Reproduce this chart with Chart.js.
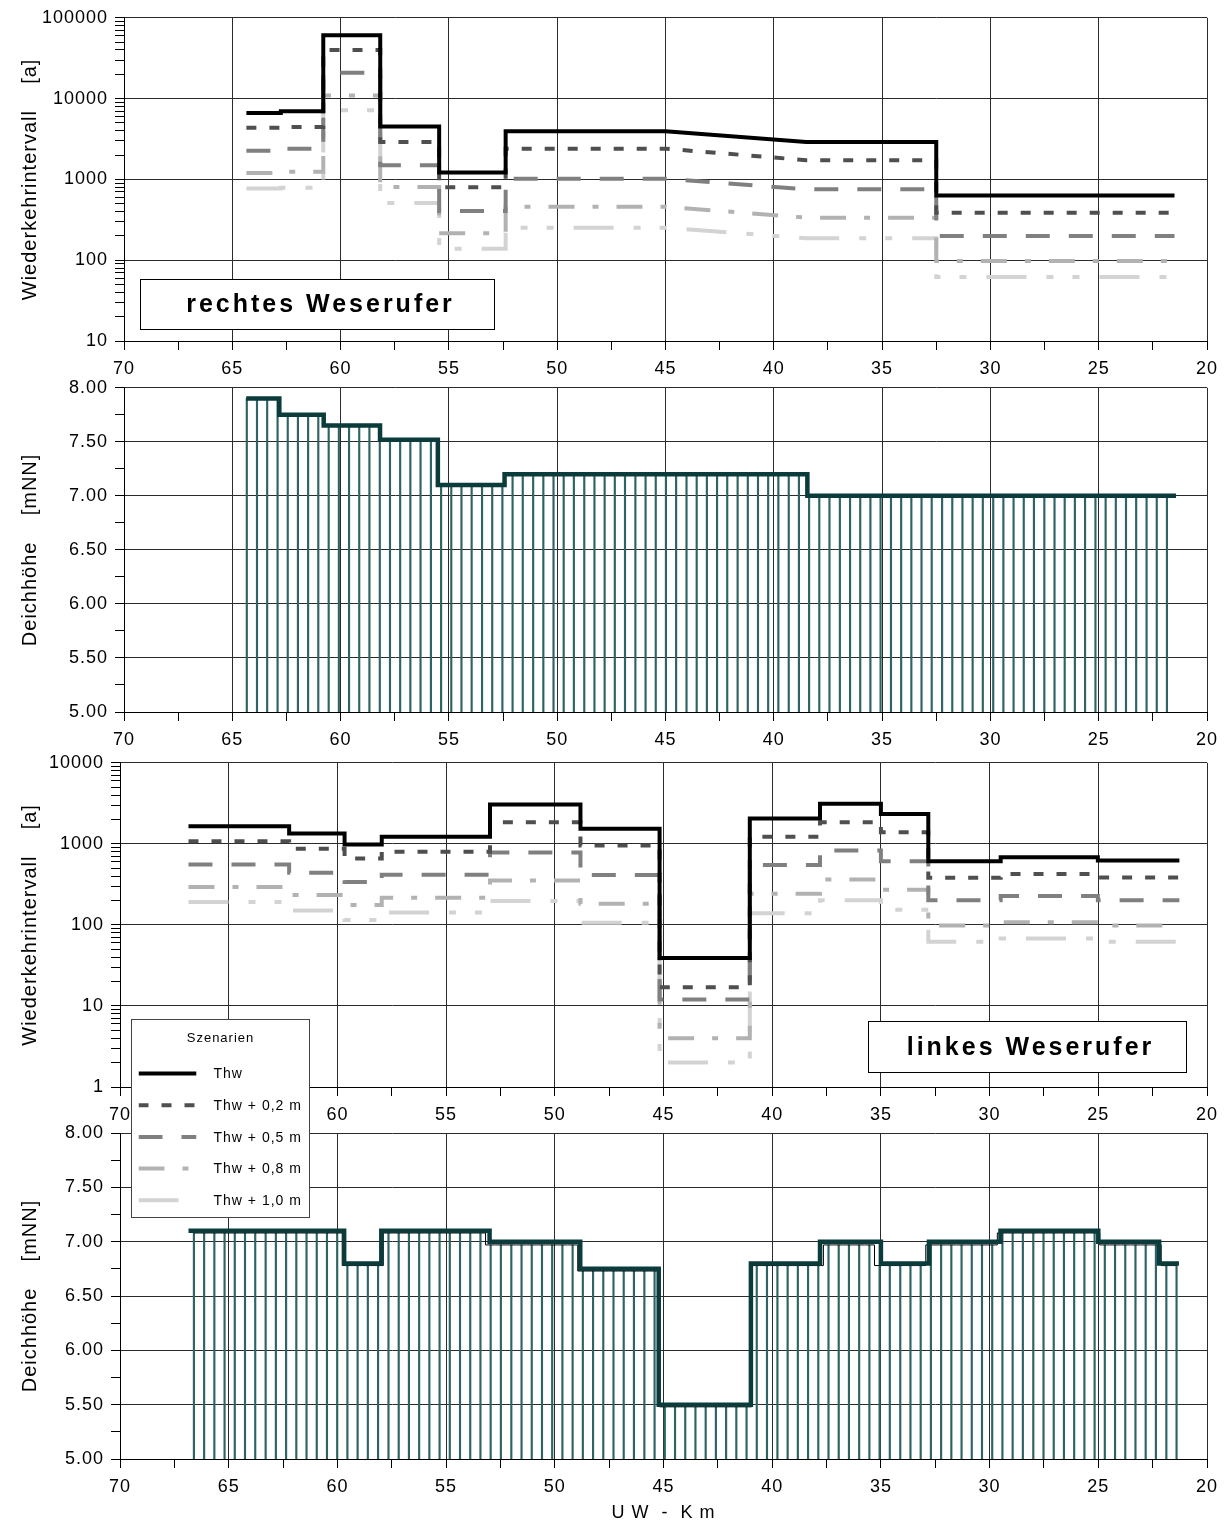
<!DOCTYPE html>
<html lang="de">
<head>
<meta charset="utf-8">
<title>Wiederkehrintervall und Deichhöhe - Weser</title>
<style>
  body { margin: 0; background: #fff; }
  #page { position: relative; width: 1229px; height: 1524px; overflow: hidden; background: #fff; }
  canvas { position: absolute; left: 0; }
  #c3 { z-index: 2; }
</style>
</head>
<body>
<div id="page">
  <canvas id="c1" width="1229" height="381" style="top:0px"></canvas>
  <canvas id="c2" width="1229" height="382" style="top:370px"></canvas>
  <canvas id="c4" width="1229" height="409" style="top:1115px"></canvas>
  <canvas id="c3" width="1229" height="480" style="top:745px"></canvas>
</div>

<script src="https://cdn.jsdelivr.net/npm/chart.js"></script>
<script>
// ---- rechtes Weserufer: Wiederkehrintervall [a], Eckpunkte je km ----
var kmRechts = [64.35, 62.76, 62.76, 60.8, 60.8, 58.17, 58.17, 55.45, 55.45, 52.38, 52.38, 45.0, 38.5, 32.5, 32.5, 21.5];
var thwR   = [6650, 6650, 6980, 6980, 61000, 61000, 4500, 4500, 1220, 1220, 3950, 3950, 2900, 2900, 630, 630];
var thw02R = [4350, 4350, 4450, 4450, 40000, 40000, 2900, 2900, 800, 800, 2400, 2400, 1730, 1730, 387, 387];
var thw05R = [2260, 2260, 2390, 2390, 20900, 20900, 1500, 1500, 406, 406, 1020, 1020, 753, 753, 200, 200];
var thw08R = [1200, 1200, 1240, 1240, 10900, 10900, 803, 803, 215, 215, 460, 460, 336, 336, 98, 98];
var thw10R = [770, 770, 790, 790, 7180, 7180, 511, 511, 139, 139, 253, 253, 187, 187, 62, 62];

// ---- linkes Weserufer: Wiederkehrintervall [a], Abschnittsgrenzen + Werte ----
var kmLinks = [66.85, 62.22, 59.67, 57.96, 52.98, 48.82, 45.18, 41.03, 37.8, 35.0, 32.82, 29.49, 25.02, 21.27];
var thwL   = [1650, 1340, 980, 1220, 3050, 1540, 39, 2050, 3130, 2340, 612, 685, 624];
var thw02L = [1080, 868, 660, 797, 1850, 954, 17, 1220, 1850, 1390, 382, 424, 385];
var thw05L = [557, 440, 338, 416, 782, 412, 12, 547, 828, 612, 201, 228, 201];
var thw08L = [293, 234, 176, 217, 354, 183, 4.0, 243, 364, 272, 98, 108, 98];
var thw10L = [192, 151, 115, 142, 197, 106, 2.0, 139, 201, 154, 62, 68, 62];

// ---- Deichhöhe rechts [mNN] ----
var kmDeichR = [64.36, 62.83, 60.78, 58.18, 55.51, 52.43, 38.45, 21.43];
var deichR   = [7.90, 7.75, 7.65, 7.52, 7.10, 7.20, 7.00];
var stationR = [64.33, 63.86, 63.39, 62.91, 62.44, 61.97, 61.50, 61.03, 60.55, 60.08,
                59.61, 59.14, 58.67, 58.19, 57.72, 57.25, 56.78, 56.31, 55.83, 55.36,
                54.89, 54.42, 53.95, 53.47, 53.00, 52.53, 52.06, 51.59, 51.11, 50.64,
                50.17, 49.70, 49.23, 48.75, 48.28, 47.81, 47.34, 46.87, 46.39, 45.92,
                45.45, 44.98, 44.51, 44.03, 43.56, 43.09, 42.62, 42.15, 41.67, 41.20,
                40.73, 40.26, 39.79, 39.31, 38.84, 38.37, 37.90, 37.43, 36.95, 36.48,
                36.01, 35.54, 35.07, 34.59, 34.12, 33.65, 33.18, 32.71, 32.23, 31.76,
                31.29, 30.82, 30.35, 29.87, 29.40, 28.93, 28.46, 27.99, 27.51, 27.04,
                26.57, 26.10, 25.63, 25.15, 24.68, 24.21, 23.74, 23.27, 22.79, 22.32, 21.85];
var profilR  = [7.90, 7.90, 7.90, 7.90, 7.75, 7.75, 7.75, 7.75, 7.65, 7.65,
                7.65, 7.65, 7.65, 7.65, 7.52, 7.52, 7.52, 7.52, 7.52, 7.10,
                7.10, 7.10, 7.10, 7.10, 7.10, 7.10, 7.20, 7.20, 7.20, 7.20,
                7.20, 7.20, 7.20, 7.20, 7.20, 7.20, 7.20, 7.20, 7.20, 7.20,
                7.20, 7.20, 7.20, 7.20, 7.20, 7.20, 7.20, 7.20, 7.20, 7.20,
                7.20, 7.20, 7.20, 7.20, 7.20, 7.00, 7.00, 7.00, 7.00, 7.00,
                7.00, 7.00, 7.00, 7.00, 7.00, 7.00, 7.00, 7.00, 7.00, 7.00,
                7.00, 7.00, 7.00, 7.00, 7.00, 7.00, 7.00, 7.00, 7.00, 7.00,
                7.00, 7.00, 7.00, 7.00, 7.00, 7.00, 7.00, 7.00, 7.00, 7.00, 7.00];

// ---- Deichhöhe links [mNN] ----
var kmDeichL = [66.85, 59.69, 57.98, 53.0, 48.83, 45.22, 40.98, 37.80, 35.0, 32.79, 29.5, 25.0, 22.2, 21.29];
var deichL   = [7.10, 6.80, 7.10, 7.00, 6.75, 5.50, 6.80, 7.00, 6.80, 7.00, 7.10, 7.00, 6.80];
var stationL = [66.60, 66.13, 65.66, 65.19, 64.72, 64.25, 63.78, 63.30, 62.83, 62.36,
                61.89, 61.42, 60.95, 60.48, 60.01, 59.54, 59.07, 58.60, 58.13, 57.65,
                57.18, 56.71, 56.24, 55.77, 55.30, 54.83, 54.36, 53.89, 53.42, 52.95,
                52.48, 52.00, 51.53, 51.06, 50.59, 50.12, 49.65, 49.18, 48.71, 48.24,
                47.77, 47.30, 46.83, 46.36, 45.88, 45.41, 44.94, 44.47, 44.00, 43.53,
                43.06, 42.59, 42.12, 41.65, 41.18, 40.71, 40.24, 39.76, 39.29, 38.82,
                38.35, 37.88, 37.41, 36.94, 36.47, 36.00, 35.53, 35.06, 34.59, 34.11,
                33.64, 33.17, 32.70, 32.23, 31.76, 31.29, 30.82, 30.35, 29.88, 29.41,
                28.94, 28.47, 27.99, 27.52, 27.05, 26.58, 26.11, 25.64, 25.17, 24.70,
                24.23, 23.76, 23.29, 22.82, 22.35, 21.87, 21.40];
var profilL  = [7.08, 7.08, 7.08, 7.08, 7.08, 7.08, 7.08, 7.08, 7.08, 7.08,
                7.08, 7.08, 7.08, 7.08, 7.08, 6.78, 6.78, 6.78, 6.78, 7.08,
                7.08, 7.08, 7.08, 7.08, 7.08, 7.08, 7.08, 7.08, 7.08, 6.97,
                6.97, 6.97, 6.97, 6.97, 6.97, 6.97, 6.97, 6.97, 6.73, 6.73,
                6.73, 6.73, 6.73, 6.73, 6.73, 6.73, 5.48, 5.48, 5.48, 5.48,
                5.48, 5.48, 5.48, 5.48, 5.48, 6.78, 6.78, 6.78, 6.78, 6.78,
                6.78, 6.78, 6.97, 6.97, 6.97, 6.97, 6.97, 6.78, 6.78, 6.78,
                6.78, 6.78, 6.97, 6.97, 6.97, 6.97, 6.97, 6.97, 6.97, 7.08,
                7.08, 7.08, 7.08, 7.08, 7.08, 7.08, 7.08, 7.08, 7.08, 6.97,
                6.97, 6.97, 6.97, 6.97, 6.97, 6.78, 6.78];

var szenarien = ['Thw', 'Thw + 0,2 m', 'Thw + 0,5 m', 'Thw + 0,8 m', 'Thw + 1,0 m'];
var farben    = ['#000000', '#4f4f4f', '#808080', '#b2b2b2', '#d3d3d3'];
var striche   = [[], [10, 13], [24, 19], [26, 18, 6, 18], [40, 20, 7, 19, 7, 20]];

var FONT = '"Liberation Sans", Arial, sans-serif';
var DEICH = '#0b3b3b';
var HAIR = '#2f6464';

function zip(xs, ys) {
  return xs.map(function (x, i) { return { x: x, y: ys[i] }; });
}
function steps(edges, vals) {
  var pts = [];
  vals.forEach(function (v, i) {
    pts.push({ x: edges[i], y: v });
    pts.push({ x: edges[i + 1], y: v });
  });
  return pts;
}
function isPow10(v) {
  var l = Math.log10(v);
  return Math.abs(l - Math.round(l)) < 1e-9;
}

function szenarioSets(series) {
  return series.map(function (pts, i) {
    return {
      label: szenarien[i], data: pts,
      borderColor: farben[i], borderWidth: 4, borderDash: striche[i],
      borderJoinStyle: 'miter', borderCapStyle: 'butt',
      pointRadius: 0, tension: 0, fill: false
    };
  });
}

var spacing = {
  id: 'spacing',
  beforeDraw: function (chart) { chart.ctx.letterSpacing = '1px'; }
};

var textBox = {
  id: 'textBox',
  afterDatasetsDraw: function (chart, args, o) {
    if (!o.text) return;
    var ctx = chart.ctx, b = o.box;
    ctx.save();
    ctx.fillStyle = '#fff';
    ctx.fillRect(b[0], b[1], b[2] - b[0], b[3] - b[1]);
    ctx.strokeStyle = '#000'; ctx.lineWidth = 1;
    ctx.strokeRect(b[0], b[1], b[2] - b[0], b[3] - b[1]);
    ctx.fillStyle = '#000';
    ctx.font = 'bold 25px ' + FONT;
    ctx.letterSpacing = '3px';
    ctx.textAlign = 'center'; ctx.textBaseline = 'middle';
    ctx.fillText(o.text, (b[0] + b[2]) / 2 + 3, (b[1] + b[3]) / 2 + 1);
    ctx.restore();
  }
};

var legendBox = {
  id: 'legendBox',
  afterDraw: function (chart, args, o) {
    if (!o.box) return;
    var ctx = chart.ctx, b = o.box;
    ctx.save();
    ctx.fillStyle = '#fff';
    ctx.fillRect(b[0], b[1], b[2] - b[0], b[3] - b[1]);
    ctx.strokeStyle = '#444'; ctx.lineWidth = 1;
    ctx.strokeRect(b[0], b[1], b[2] - b[0], b[3] - b[1]);
    ctx.letterSpacing = '1px';
    ctx.fillStyle = '#000';
    ctx.textBaseline = 'middle';
    ctx.textAlign = 'center';
    ctx.font = '13px ' + FONT;
    ctx.fillText('Szenarien', (b[0] + b[2]) / 2, b[1] + 19);
    ctx.textAlign = 'left';
    ctx.font = '14px ' + FONT;
    chart.data.datasets.forEach(function (ds, i) {
      var y = b[1] + 54 + i * 31.7;
      ctx.save();
      ctx.beginPath();
      ctx.rect(b[0] + 7, y - 5, 58, 10);
      ctx.clip();
      ctx.strokeStyle = ds.borderColor;
      ctx.lineWidth = ds.borderWidth;
      ctx.setLineDash(ds.borderDash);
      ctx.beginPath();
      ctx.moveTo(b[0] + 7, y);
      ctx.lineTo(b[0] + 65, y);
      ctx.stroke();
      ctx.restore();
      ctx.fillText(ds.label, b[0] + 82, y + 1);
    });
    ctx.restore();
  }
};

function makeOptions(cfg) {
  var y;
  if (cfg.log) {
    y = {
      type: 'logarithmic', min: cfg.yMin, max: cfg.yMax,
      afterFit: function (s) { s.width = cfg.left; },
      afterBuildTicks: function (s) {
        s.ticks = s.ticks.filter(function (t) {
          var e = Math.floor(Math.log10(t.value) + 1e-9);
          var m = t.value / Math.pow(10, e);
          return Math.abs(m - Math.round(m)) < 1e-6;
        });
      },
      ticks: {
        autoSkip: false, padding: 7, color: '#000', font: { size: 18, family: FONT },
        callback: function (v) { return isPow10(v) ? String(Math.round(v)) : ''; }
      },
      grid: {
        color: function (c) { return c.tick && isPow10(c.tick.value) ? '#2b2b2b' : 'rgba(0,0,0,0)'; },
        tickColor: '#000', tickLength: 9, lineWidth: 1
      },
      border: { color: '#000', width: 1 },
      title: { display: true, text: cfg.yTitle, color: '#000', font: { size: 20, family: FONT }, padding: { top: 18, bottom: 0 } }
    };
  } else {
    y = {
      type: 'linear', min: 5, max: 8,
      afterFit: function (s) { s.width = cfg.left; },
      ticks: {
        stepSize: 0.25, autoSkip: false, padding: 7, color: '#000', font: { size: 18, family: FONT },
        callback: function (v) { return Math.abs(v * 2 - Math.round(v * 2)) < 1e-9 ? v.toFixed(2) : ''; }
      },
      grid: {
        color: function (c) {
          var v = c.tick ? c.tick.value : 0;
          return Math.abs(v * 2 - Math.round(v * 2)) < 1e-9 ? '#2b2b2b' : 'rgba(0,0,0,0)';
        },
        tickColor: '#000', tickLength: 9, lineWidth: 1
      },
      border: { color: '#000', width: 1 },
      title: { display: true, text: cfg.yTitle, color: '#000', font: { size: 20, family: FONT }, padding: { top: 18, bottom: 0 } }
    };
  }
  return {
    responsive: false, animation: false, events: [],
    layout: { padding: { top: cfg.padTop, right: 22, bottom: cfg.padBottom || 0, left: 0 } },
    plugins: {
      legend: { display: false }, tooltip: { enabled: false },
      textBox: cfg.textBox || {}, legendBox: cfg.legendBox || {}
    },
    scales: {
      x: {
        type: 'linear', reverse: true, min: 20, max: 70, offset: false,
        afterFit: function (s) { s.height = cfg.xHeight; },
        ticks: {
          stepSize: 2.5, autoSkip: false, maxRotation: 0, padding: 8, color: '#000',
          font: { size: 18, family: FONT },
          callback: function (v) { return v % 5 === 0 ? String(v) : ''; }
        },
        grid: {
          offset: false,
          color: function (c) { return c.tick && c.tick.value % 5 === 0 ? '#2b2b2b' : 'rgba(0,0,0,0)'; },
          tickColor: '#000', tickLength: 9, lineWidth: 1
        },
        border: { color: '#000', width: 1 },
        title: cfg.xTitle
          ? { display: true, text: cfg.xTitle, color: '#000', font: { size: 18, family: FONT }, padding: { top: 0, bottom: 0 } }
          : { display: false }
      },
      y: y
    }
  };
}

function deichSets(edges, vals, stations, profil, outline) {
  var sets = [{
    type: 'line', data: steps(edges, vals),
    borderColor: DEICH, borderWidth: 4.5, borderJoinStyle: 'miter',
    pointRadius: 0, tension: 0, fill: false
  }];
  if (outline) {
    sets.push({
      type: 'line', data: zip(stations, profil), stepped: 'middle',
      borderColor: '#000', borderWidth: 1, pointRadius: 0, fill: false
    });
  }
  sets.push({
    type: 'bar', data: zip(stations, profil),
    backgroundColor: HAIR, barThickness: 1.5, grouped: false
  });
  return sets;
}

// Panel 1: rechtes Weserufer, Wiederkehrintervall
new Chart(document.getElementById('c1'), {
  type: 'line',
  data: { datasets: szenarioSets([
    zip(kmRechts, thwR), zip(kmRechts, thw02R), zip(kmRechts, thw05R),
    zip(kmRechts, thw08R), zip(kmRechts, thw10R)
  ]) },
  options: makeOptions({
    log: true, yMin: 10, yMax: 100000, left: 124, padTop: 15, xHeight: 40,
    yTitle: 'Wiederkehrintervall    [a]',
    textBox: { text: 'rechtes Weserufer', box: [140.5, 279.5, 494.5, 329.5] }
  }),
  plugins: [spacing, textBox]
});

// Panel 2: Deichhöhe rechts
new Chart(document.getElementById('c2'), {
  type: 'line',
  data: { datasets: deichSets(kmDeichR, deichR, stationR, profilR, false) },
  options: makeOptions({
    log: false, left: 124, padTop: 16, xHeight: 40,
    yTitle: 'Deichhöhe    [mNN]'
  }),
  plugins: [spacing]
});

// Panel 3: linkes Weserufer, Wiederkehrintervall (+ Legende)
new Chart(document.getElementById('c3'), {
  type: 'line',
  data: { datasets: szenarioSets([
    steps(kmLinks, thwL), steps(kmLinks, thw02L), steps(kmLinks, thw05L),
    steps(kmLinks, thw08L), steps(kmLinks, thw10L)
  ]) },
  options: makeOptions({
    log: true, yMin: 1, yMax: 10000, left: 120, padTop: 17, padBottom: 98, xHeight: 40,
    yTitle: 'Wiederkehrintervall    [a]',
    textBox: { text: 'linkes Weserufer', box: [868.5, 276.5, 1186.5, 327.5] },
    legendBox: { box: [131.5, 274.5, 309.5, 472.5] }
  }),
  plugins: [spacing, textBox, legendBox]
});

// Panel 4: Deichhöhe links
new Chart(document.getElementById('c4'), {
  type: 'line',
  data: { datasets: deichSets(kmDeichL, deichL, stationL, profilL, true) },
  options: makeOptions({
    log: false, left: 120, padTop: 18, xHeight: 65,
    yTitle: 'Deichhöhe    [mNN]', xTitle: 'U W  -  K m'
  }),
  plugins: [spacing]
});
</script>
</body>
</html>
